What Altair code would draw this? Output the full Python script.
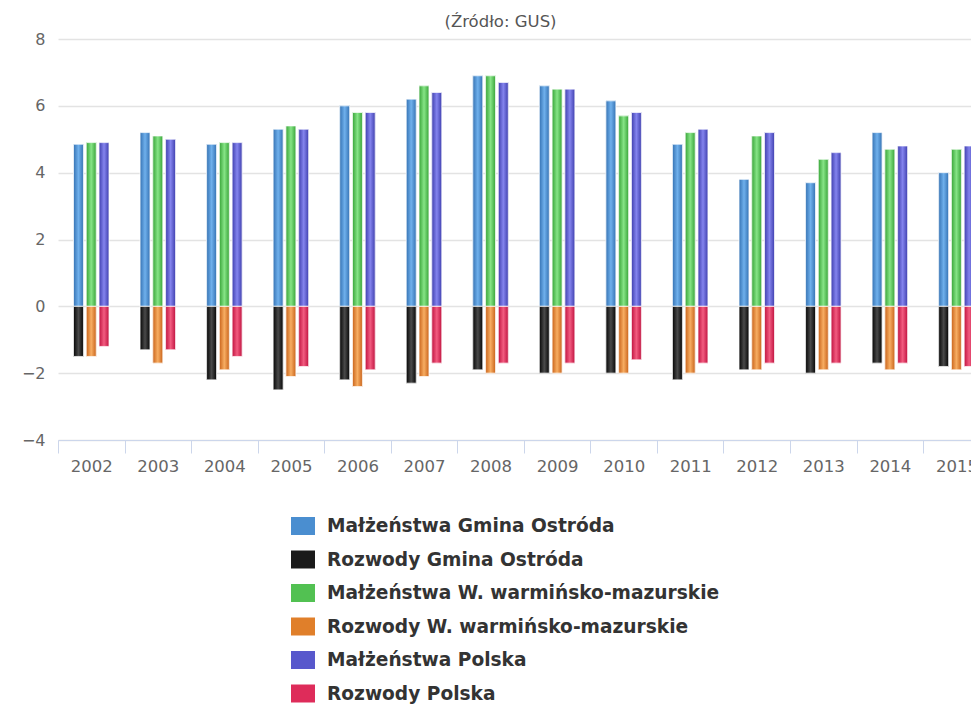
import altair as alt
import pandas as pd

years = [str(y) for y in range(2002, 2016)]
series_names = [
    "Małżeństwa Gmina Ostróda",
    "Rozwody Gmina Ostróda",
    "Małżeństwa W. warmińsko-mazurskie",
    "Rozwody W. warmińsko-mazurskie",
    "Małżeństwa Polska",
    "Rozwody Polska",
]
series_region = ["Gmina Ostróda", "Gmina Ostróda", "W. warmińsko-mazurskie", "W. warmińsko-mazurskie", "Polska", "Polska"]

malz_ostroda = [4.85, 5.2, 4.85, 5.3, 6.0, 6.2, 6.9, 6.6, 6.15, 4.85, 3.8, 3.7, 5.2, 4.0]
rozw_ostroda = [-1.5, -1.3, -2.2, -2.5, -2.2, -2.3, -1.9, -2.0, -2.0, -2.2, -1.9, -2.0, -1.7, -1.8]
malz_wm = [4.9, 5.1, 4.9, 5.4, 5.8, 6.6, 6.9, 6.5, 5.7, 5.2, 5.1, 4.4, 4.7, 4.7]
rozw_wm = [-1.5, -1.7, -1.9, -2.1, -2.4, -2.1, -2.0, -2.0, -2.0, -2.0, -1.9, -1.9, -1.9, -1.9]
malz_pl = [4.9, 5.0, 4.9, 5.3, 5.8, 6.4, 6.7, 6.5, 5.8, 5.3, 5.2, 4.6, 4.8, 4.8]
rozw_pl = [-1.2, -1.3, -1.5, -1.8, -1.9, -1.7, -1.7, -1.7, -1.6, -1.7, -1.7, -1.7, -1.7, -1.8]

series_values = [malz_ostroda, rozw_ostroda, malz_wm, rozw_wm, malz_pl, rozw_pl]
base_colors = ["#4a8ed0", "#1a1a1a", "#52c152", "#e07f2a", "#5858cc", "#de2c5a"]
edge_colors = ["#3572b3", "#050505", "#38a438", "#c9631a", "#3f3fae", "#c0123f"]
mid_colors = ["#6fb0ec", "#4a4a4a", "#86e486", "#f7ad62", "#8484ee", "#f25c80"]

rows = []
for name, reg, vals in zip(series_names, series_region, series_values):
    for y, v in zip(years, vals):
        rows.append({"year": y, "series": name, "region": reg, "value": v})
df = pd.DataFrame(rows)

region_order = ["Gmina Ostróda", "W. warmińsko-mazurskie", "Polska"]
STEP = 66.55
x_enc = alt.X(
    "year:N",
    sort=years,
    title=None,
    scale=alt.Scale(paddingInner=0, paddingOuter=0, range=[0, STEP * len(years)]),
    axis=alt.Axis(
        labelAngle=0, labelFont="DejaVu Sans", labelFontSize=16.5, labelColor="#666666",
        labelPadding=5, tickBand="extent", tickSize=13, tickColor="#ccd6eb",
        domainColor="#ccd6eb", grid=False,
    ),
)
xoff_enc = alt.XOffset(
    "region:N", sort=region_order,
    scale=alt.Scale(paddingInner=0.22, paddingOuter=0, range=[15.5, 51.0]),
)
y_enc = alt.Y(
    "value:Q",
    title=None,
    scale=alt.Scale(domain=[-4, 8], nice=False),
    axis=alt.Axis(
        values=[-4, -2, 0, 2, 4, 6, 8], labelFont="DejaVu Sans", labelFontSize=16,
        labelColor="#666666", labelPadding=13, domain=False, ticks=False,
        gridColor="#e3e3e3", gridWidth=1.5,
    ),
)

base = alt.Chart(df).encode(x=x_enc, xOffset=xoff_enc, y=y_enc)

legend_path = "M-1.2,-0.9L1.2,-0.9L1.2,0.9L-1.2,0.9Z"
flat = base.mark_bar(strokeWidth=0).encode(
    color=alt.Color(
        "series:N",
        sort=series_names,
        scale=alt.Scale(domain=series_names, range=base_colors),
        legend=alt.Legend(
            title=None, orient="none", legendX=235, legendY=477, direction="vertical",
            symbolType=legend_path, symbolSize=400, symbolStrokeWidth=0,
            labelFont="DejaVu Sans", labelFontWeight="bold", labelFontSize=18.6,
            labelColor="#333333", labelOffset=14, rowPadding=13.5, padding=0,
            labelLimit=600,
        ),
    )
)

layers = [flat]
for name, e, m in zip(series_names, edge_colors, mid_colors):
    grad = alt.Gradient(
        gradient="linear", x1=0, x2=1, y1=0, y2=0,
        stops=[
            alt.GradientStop(offset=0, color=e),
            alt.GradientStop(offset=0.5, color=m),
            alt.GradientStop(offset=1, color=e),
        ],
    )
    layers.append(
        base.transform_filter(alt.datum.series == name).mark_bar(
            color=grad, stroke="white", strokeWidth=1, strokeOpacity=0.8
        )
    )

chart = alt.layer(*layers).properties(
    width=913,
    height=401,
    title=alt.TitleParams(
        "(Źródło: GUS)", font="DejaVu Sans", fontSize=16.5, fontWeight="normal",
        color="#555555", anchor="middle", dx=-14, dy=5, offset=6,
    ),
    autosize=alt.AutoSizeParams(type="none"),
    padding={"left": 50, "top": 31, "right": 0, "bottom": 264},
).configure_view(stroke=None)

chart.save("out.html", embed_options={"renderer": "svg", "actions": False})
